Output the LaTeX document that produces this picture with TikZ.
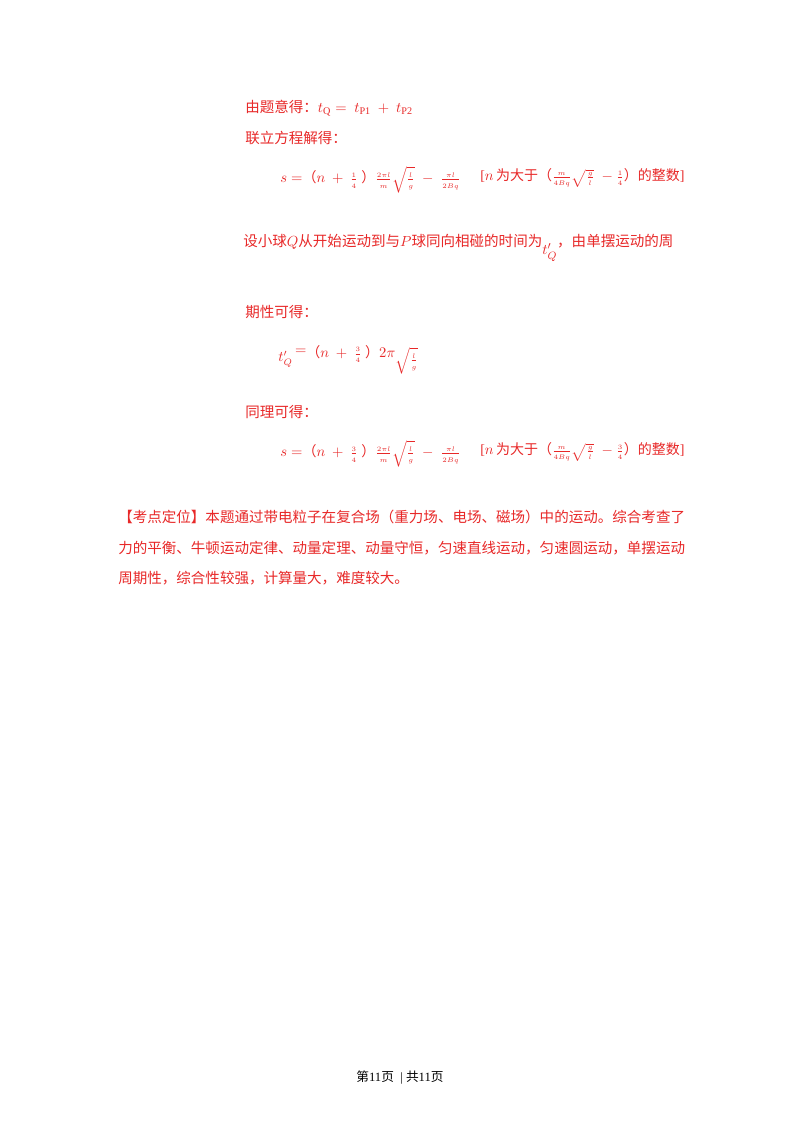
\documentclass[tikz,border=0pt]{standalone}
\usepackage{amsmath}
\usepackage{fontspec}
\setmainfont{Liberation Serif}
\newfontfamily\cjk{Noto Sans CJK SC}
\definecolor{tred}{RGB}{232,40,40}
\newcommand{\tf}[2]{\ensuremath{\genfrac{}{}{0.4pt}{}{\scriptscriptstyle #1}{\scriptscriptstyle #2}}}
\begin{document}
\begin{tikzpicture}[x=0.75pt,y=-0.75pt,
  txt/.style={anchor=west,inner sep=0,text=tred,font=\fontsize{10.9}{12}\selectfont},
  fml/.style={anchor=west,inner sep=0,text=tred,font=\fontsize{10.5}{12}\selectfont},
  foot/.style={anchor=center,inner sep=0,font=\fontsize{9.5}{11}\selectfont}]
\fill[white] (0,0) rectangle (800,1132);
\node[txt] (l1) at (245,108) {{\cjk 由题意得：}$t_{\mathrm{Q}}=\ t_{\mathrm{P1}}\ +\ t_{\mathrm{P2}}$};
\node[txt] (l2) at (245,138) {\cjk 联立方程解得：};
\node[fml] (f1) at (280,180) {$s=${\cjk （}$n\ +\ \tf{1}{4}$ {\cjk ）}$\tf{2\pi l}{m}\sqrt{\tf{l}{g}}\;-\;\tf{\pi l}{2Bq}$};
\node[fml] (b1) at (480,178) {[$n$\,{\cjk 为大于（}$\tf{m}{4Bq}\sqrt{\tf{g}{l}}\;-\tf{1}{4}${\cjk ）的整数}]};
\node[txt] (l3) at (243,248) {{\cjk 设小球}$Q${\cjk 从开始运动到与}$P${\cjk 球同向相碰的时间为}\raisebox{-1.2ex}{$t_Q^{\prime}$}{\cjk ，由单摆运动的周}};
\node[txt] (l4) at (245,312) {\cjk 期性可得：};
\node[fml] (f2) at (278,360) {$t_Q^{\prime}\,${\raisebox{1ex}{$=$}}\raisebox{0.6ex}{{\cjk （}$n\ +\ \tf{3}{4}$ {\cjk ）}$2\pi$}\raisebox{-0.4ex}{$\sqrt{\tf{l}{g}}$}};
\node[txt] (l5) at (245,412) {\cjk 同理可得：};
\node[fml] (f3) at (280,454) {$s=${\cjk （}$n\ +\ \tf{3}{4}$ {\cjk ）}$\tf{2\pi l}{m}\sqrt{\tf{l}{g}}\;-\;\tf{\pi l}{2Bq}$};
\node[fml] (b3) at (480,452) {[$n$\,{\cjk 为大于（}$\tf{m}{4Bq}\sqrt{\tf{g}{l}}\;-\tf{3}{4}${\cjk ）的整数}]};
\node[txt] (p1) at (118,517) {\cjk 【考点定位】本题通过带电粒子在复合场（重力场、电场、磁场）中的运动。综合考查了};
\node[txt] (p2) at (118,548) {\cjk 力的平衡、牛顿运动定律、动量定理、动量守恒，匀速直线运动，匀速圆运动，单摆运动};
\node[txt] (p3) at (118,578) {\cjk 周期性，综合性较强，计算量大，难度较大。};
\node[foot] (ft) at (400,1078) {{\cjk 第}11{\cjk 页}\ \ |\ {\cjk 共}11{\cjk 页}};
\end{tikzpicture}
\end{document}
